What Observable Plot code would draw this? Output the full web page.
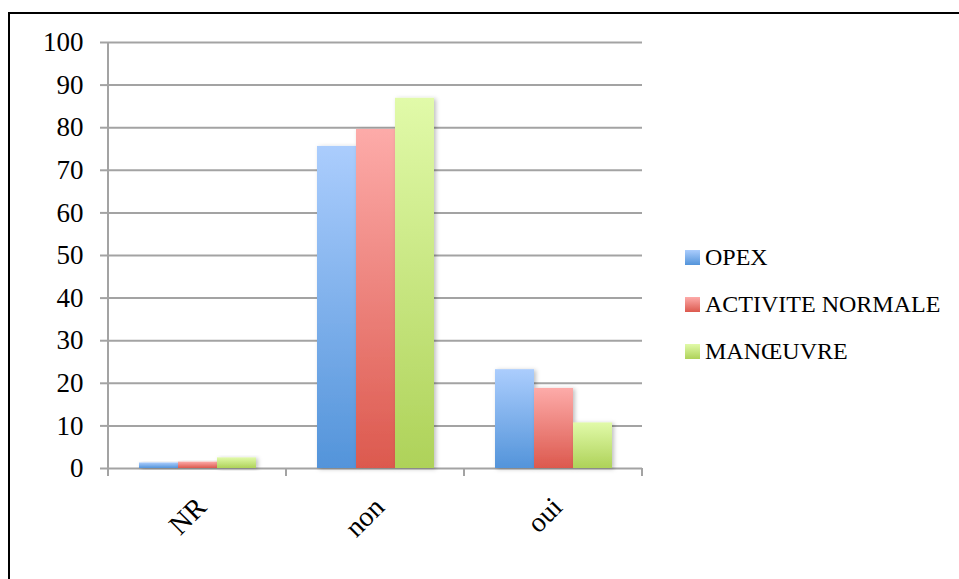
<!DOCTYPE html>
<html>
<head>
<meta charset="utf-8">
<script src="https://cdn.jsdelivr.net/npm/d3@7"></script>
<script src="https://cdn.jsdelivr.net/npm/@observablehq/plot@0.6"></script>
<style>
  html, body { margin: 0; padding: 0; background: #fff; }
  #wrap { position: relative; width: 959px; height: 579px; overflow: hidden; font-family: "Liberation Serif", serif; }
  #frame { position: absolute; left: 8px; top: 12px; width: 1000px; height: 700px; border: 2px solid #000; box-sizing: border-box; }
  #chart { position: absolute; left: 0; top: 0; }
  #legend { position: absolute; left: 685px; top: 0; }
  .item { position: absolute; left: 0; display: flex; align-items: center; white-space: nowrap; font-size: 24px; color: #000; }
  .sw { width: 15px; height: 15px; margin-right: 5px; }
</style>
</head>
<body>
<div id="wrap">
  <div id="frame"></div>
  <div id="chart"></div>
  <div id="legend"></div>
</div>
<script>
const categories = ["NR", "non", "oui"];
const seriesNames = ["OPEX", "ACTIVITE NORMALE", "MANŒUVRE"];
const opexValues = [1.3, 75.6, 23.2];
const activiteValues = [1.5, 79.6, 18.8];
const manoeuvreValues = [2.5, 86.9, 10.7];
const yTicks = [0, 10, 20, 30, 40, 50, 60, 70, 80, 90, 100];

const gradTop = ["#abcdfd", "#fdaba9", "#e1faa9"];
const gradBottom = ["#5394da", "#dc594e", "#aed259"];
const gradIds = ["gOpex", "gAct", "gMan"];

const valuesBySeries = [opexValues, activiteValues, manoeuvreValues];
const data = [];
categories.forEach((c, i) => {
  seriesNames.forEach((s, j) => {
    data.push({cat: c, series: s, value: valuesBySeries[j][i]});
  });
});

const grid = "#a3a3a3";
const plot = Plot.plot({
  width: 959,
  height: 579,
  marginTop: 42,
  marginBottom: 111,
  marginLeft: 107,
  marginRight: 316,
  style: {fontFamily: "'Liberation Serif', serif", fontSize: "24px", color: "#000", background: "transparent", overflow: "visible"},
  fx: {domain: categories, padding: 0, label: null},
  x: {domain: seriesNames, paddingInner: 0, paddingOuter: 0.74, axis: null},
  y: {domain: [0, 100], label: null},
  color: {domain: seriesNames, range: gradIds.map(id => `url(#${id})`)},
  marks: [
    Plot.gridY(yTicks, {stroke: grid, strokeOpacity: 1, strokeWidth: 2}),
    Plot.axisY(yTicks, {tickSize: 8, tickPadding: 17, stroke: grid, strokeWidth: 2, strokeOpacity: 1, fontSize: 27, label: null}),
    Plot.axisFx({anchor: "bottom", tickSize: 0, tickPadding: 34, tickRotate: -45, fontSize: 28, label: null, dx: 4}),
    Plot.barY(data, {fx: "cat", x: "series", y: "value", fill: "series"})
  ]
});
document.getElementById("chart").appendChild(plot);

const svg = d3.select(plot);
const defs = svg.insert("defs", ":first-child");
gradIds.forEach((id, i) => {
  const g = defs.append("linearGradient").attr("id", id).attr("x1", 0).attr("y1", 0).attr("x2", 0).attr("y2", 1);
  g.append("stop").attr("offset", "0%").attr("stop-color", gradTop[i]);
  g.append("stop").attr("offset", "100%").attr("stop-color", gradBottom[i]);
});
const f = defs.append("filter").attr("id", "shadow").attr("x", "-20%").attr("y", "-20%").attr("width", "140%").attr("height", "140%");
f.append("feDropShadow").attr("dx", 2).attr("dy", 1).attr("stdDeviation", 2).attr("flood-color", "#000").attr("flood-opacity", 0.25);
svg.selectAll("g[aria-label='bar'] rect").attr("filter", "url(#shadow)");

// axis line and category boundary ticks using the plot's scales
const yS = plot.scale("y");
const fxS = plot.scale("fx");
const y0 = yS.apply(0), y100 = yS.apply(100);
const bw = fxS.bandwidth;
const extra = svg.append("g").attr("stroke", grid).attr("stroke-width", 2);
const left = fxS.apply(categories[0]);
extra.append("line").attr("x1", left).attr("x2", left).attr("y1", y100).attr("y2", y0 + 8);
categories.forEach(c => {
  const x = fxS.apply(c) + bw;
  extra.append("line").attr("x1", x).attr("x2", x).attr("y1", y0).attr("y2", y0 + 8);
});

// legend
const legend = document.getElementById("legend");
const legendY = [257, 304, 351];
seriesNames.forEach((s, i) => {
  const it = document.createElement("div");
  it.className = "item";
  it.style.top = (legendY[i] - 15) + "px";
  it.style.height = "30px";
  const sw = document.createElement("div");
  sw.className = "sw";
  sw.style.background = `linear-gradient(${gradTop[i]}, ${gradBottom[i]})`;
  const t = document.createElement("span");
  t.textContent = s;
  it.appendChild(sw);
  it.appendChild(t);
  legend.appendChild(it);
});
</script>
</body>
</html>
